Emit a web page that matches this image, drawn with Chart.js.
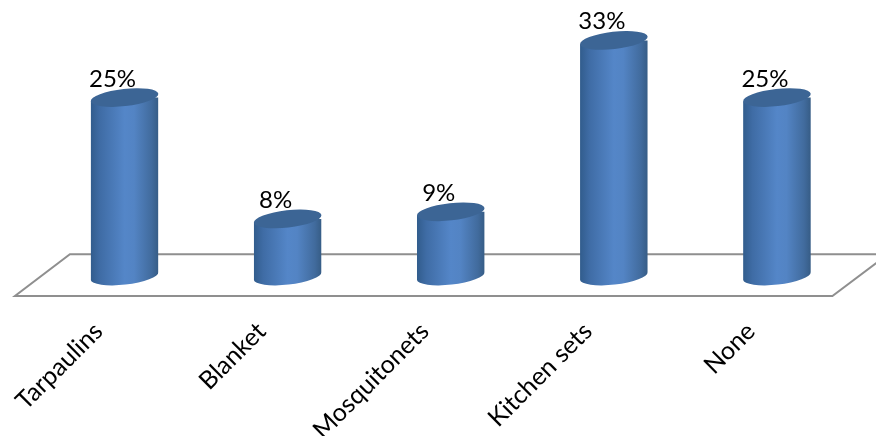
<!DOCTYPE html>
<html>
<head>
<meta charset="utf-8">
<style>
  html, body { margin: 0; padding: 0; background: #fff; overflow: hidden; }
  canvas { display: block; }
</style>
<script src="https://cdn.jsdelivr.net/npm/chart.js@4"></script>
</head>
<body>
<canvas id="chart" width="876" height="436"></canvas>
<script>
const categories = ['Tarpaulins', 'Blanket', 'Mosquitonets', 'Kitchen sets', 'None'];
const shares = [25, 8, 9, 33, 25];

const FONT = '24px Lato, "Open Sans", sans-serif';
const CAP_HALF_W = 34;
const CAP_HALF_H = 8.6;
const CAP_TILT = -6.5 * Math.PI / 180;

// Floor outline in axis units: x in category steps, y in percent
const FLOOR_FRONT = -2.8;
const FLOOR_BACK = 3.05;
const FLOOR_X = { frontLeft: -0.672, backLeft: -0.335, frontRight: 4.34, backRight: 4.68 };

function ellipsePath(ctx, cx, cy) {
  ctx.ellipse(cx, cy, CAP_HALF_W, CAP_HALF_H, CAP_TILT, 0, Math.PI * 2);
}

function cylinderFill(chart, i) {
  const cx = chart.scales.x ? chart.scales.x.getPixelForValue(i) : NaN;
  if (!Number.isFinite(cx)) return '#4f81bd';
  const g = chart.ctx.createLinearGradient(cx - CAP_HALF_W, 0, cx + CAP_HALF_W, 0);
  g.addColorStop(0, '#315c8c');
  g.addColorStop(0.14, '#3f6ca5');
  g.addColorStop(0.5, '#5486c8');
  g.addColorStop(0.64, '#5384c4');
  g.addColorStop(0.9, '#416b9d');
  g.addColorStop(1, '#365c85');
  return g;
}

// Floor plate behind the columns
const floorPlugin = {
  id: 'floor',
  beforeDatasetsDraw(chart) {
    const { ctx, scales: { x, y } } = chart;
    ctx.save();
    ctx.strokeStyle = '#8f8f8f';
    ctx.lineWidth = 2;
    ctx.lineJoin = 'miter';
    ctx.beginPath();
    ctx.moveTo(x.getPixelForValue(FLOOR_X.backRight), y.getPixelForValue(FLOOR_BACK));
    ctx.lineTo(x.getPixelForValue(FLOOR_X.backLeft), y.getPixelForValue(FLOOR_BACK));
    ctx.lineTo(x.getPixelForValue(FLOOR_X.frontLeft), y.getPixelForValue(FLOOR_FRONT));
    ctx.lineTo(x.getPixelForValue(FLOOR_X.frontRight), y.getPixelForValue(FLOOR_FRONT));
    ctx.lineTo(x.getPixelForValue(FLOOR_X.backRight), y.getPixelForValue(FLOOR_BACK));
    ctx.stroke();
    ctx.restore();
  },
  // Trim each rectangular bar to a tilted cylinder outline
  beforeDatasetDraw(chart) {
    const { ctx, scales: { x, y } } = chart;
    const dx = CAP_HALF_W * Math.cos(CAP_TILT);
    const dy = CAP_HALF_W * Math.sin(CAP_TILT);
    ctx.save();
    ctx.beginPath();
    shares.forEach((v, i) => {
      const cx = x.getPixelForValue(i);
      const top = y.getPixelForValue(v);
      const bottom = y.getPixelForValue(0);
      ctx.moveTo(cx - dx, top - dy);
      ctx.lineTo(cx + dx, top + dy);
      ctx.lineTo(cx + dx, bottom + dy);
      ctx.ellipse(cx, bottom, CAP_HALF_W, CAP_HALF_H, CAP_TILT, 0, Math.PI);
      ctx.closePath();
    });
    ctx.clip();
  },
  afterDatasetDraw(chart) {
    chart.ctx.restore();
  },
  // Column caps and percentage labels
  afterDatasetsDraw(chart) {
    const { ctx, scales: { x, y } } = chart;
    ctx.save();
    shares.forEach((v, i) => {
      const cx = x.getPixelForValue(i);
      const top = y.getPixelForValue(v);
      ctx.beginPath();
      ellipsePath(ctx, cx, top);
      ctx.fillStyle = '#3c6595';
      ctx.fill();
      ctx.fillStyle = '#000';
      ctx.font = FONT;
      ctx.textAlign = 'center';
      ctx.textBaseline = 'alphabetic';
      ctx.fillText(v + '%', cx - 12, top - 11);
    });
    ctx.restore();
  }
};

new Chart(document.getElementById('chart'), {
  type: 'bar',
  data: {
    labels: categories,
    datasets: [{
      data: shares,
      base: -1.8,
      categoryPercentage: 1,
      barPercentage: 0.417,
      backgroundColor: c => cylinderFill(c.chart, c.dataIndex),
      borderWidth: 0
    }]
  },
  plugins: [floorPlugin],
  options: {
    responsive: false,
    animation: false,
    layout: { padding: { left: 43, right: 17.5, top: 4.7, bottom: 0 } },
    plugins: { legend: { display: false }, tooltip: { enabled: false } },
    scales: {
      y: { display: false, min: -4, max: 38 },
      x: {
        grid: { display: false, drawTicks: false },
        border: { display: false },
        afterFit(scale) {
          scale.height = 131.4;
          scale.paddingLeft = 0;
          scale.paddingRight = 0;
        },
        ticks: {
          color: '#000',
          font: { family: 'Lato, "Open Sans", sans-serif', size: 25 },
          minRotation: 45,
          maxRotation: 45,
          autoSkip: false,
          padding: 12,
          labelOffset: -26
        }
      }
    }
  }
});
</script>
</body>
</html>
